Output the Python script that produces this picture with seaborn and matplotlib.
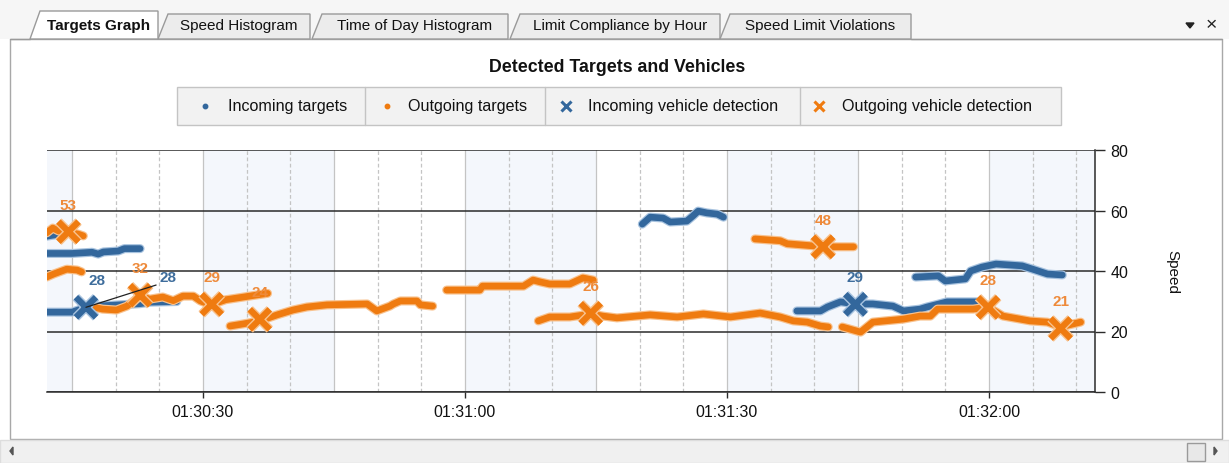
"""
Targets graph: detected radar targets and vehicle detections (speed vs time).
"""
import matplotlib
matplotlib.use("Agg")
import matplotlib.pyplot as plt
import matplotlib.patheffects as pe
from matplotlib.patches import Rectangle, Polygon
from matplotlib.ticker import FixedLocator, FuncFormatter
import pandas as pd
import seaborn as sns

# ============================
# Data (seconds after 01:30:00, speed)
# ============================
START_LABEL = (1, 30)  # hh, mm of the time origin
X_RANGE = (12.14, 132.14)

incoming_t = [12.1, 13.2,
              12.1, 15.0, 17.3, 18.0, 18.6, 20.3, 21.0, 22.8,
              12.1, 15.0, 16.6, 18.5, 22.8, 24.0, 27.0,
              80.3, 81.2, 82.7, 83.5, 85.4, 86.1, 86.7, 87.7, 88.9, 89.6,
              98.0, 100.7, 101.5, 103.0, 104.7, 106.7, 109.0, 110.2, 112.1, 112.9, 115.2, 118.7,
              111.6, 114.2, 115.0, 117.3, 117.9, 119.2, 120.8, 123.8, 124.9, 126.7, 128.4]
incoming_v = [51.5, 52.0,
              45.8, 45.8, 46.2, 45.6, 46.3, 46.6, 47.4, 47.4,
              26.4, 26.4, 28.0, 28.5, 29.2, 29.7, 29.9,
              55.5, 57.8, 57.5, 56.2, 56.5, 58.2, 59.8, 59.2, 58.8, 57.8,
              26.8, 26.8, 28.1, 29.8, 29.1, 29.1, 28.4, 26.8, 27.4, 28.1, 29.8, 29.8,
              38.0, 38.4, 36.7, 37.4, 40.0, 41.3, 42.3, 41.7, 40.7, 39.0, 38.7]
incoming_seg = [1] * 2 + [2] * 8 + [3] * 7 + [4] * 10 + [5] * 12 + [6] * 11

outgoing_t = [12.1, 12.8, 13.5, 14.6, 15.7, 16.3,
              12.1, 12.9, 14.4, 15.6, 16.1,
              17.4, 18.5, 20.1, 21.3, 22.8, 23.9, 25.4, 26.6, 27.7, 28.9, 29.7, 30.9, 32.6, 34.2, 36.0, 37.4,
              33.1, 34.6, 36.5, 38.5, 40.3, 41.9, 44.2, 48.8, 49.9, 51.4, 51.8, 52.6, 54.5, 54.9, 56.3,
              57.9, 61.7, 62.0, 66.7, 67.8, 68.6, 69.7, 72.0, 73.5, 74.7,
              68.4, 69.7, 72.0, 74.4, 75.8, 77.4, 81.2, 84.3, 87.3, 90.4, 93.8, 96.1, 97.6, 99.2, 100.7, 101.6,
              93.2, 96.1, 96.9, 99.9, 101.0, 104.5,
              103.2, 105.3, 106.7, 110.2, 112.1, 113.3, 114.1, 118.2, 119.9, 121.6, 124.7, 126.7, 128.2, 130.5]
outgoing_v = [52.6, 54.2, 53.2, 52.9, 52.2, 51.6,
              38.0, 39.0, 40.6, 40.3, 39.7,
              28.1, 27.4, 27.1, 28.4, 31.7, 30.7, 31.4, 30.2, 31.7, 31.7, 30.1, 28.8, 30.5, 31.2, 32.0, 32.6,
              21.8, 22.5, 23.5, 25.5, 27.1, 28.1, 28.8, 29.1, 26.8, 28.4, 29.1, 30.1, 30.1, 28.8, 28.4,
              33.7, 33.7, 35.0, 35.0, 37.0, 36.4, 35.7, 35.7, 37.7, 37.0,
              23.5, 24.8, 24.8, 25.8, 25.1, 24.5, 25.5, 24.8, 25.8, 24.8, 26.1, 24.8, 23.5, 23.1, 21.8, 21.5,
              50.6, 50.0, 49.0, 48.3, 48.0, 48.0,
              21.5, 19.8, 23.1, 24.1, 25.1, 25.1, 27.4, 27.4, 28.1, 25.1, 23.5, 23.1, 21.5, 23.1]
outgoing_seg = [1] * 6 + [2] * 5 + [3] * 16 + [4] * 15 + [5] * 10 + [6] * 16 + [7] * 6 + [8] * 14

in_det_t = [16.6, 104.7]
in_det_v = [28, 29]
out_det_t = [14.6, 22.8, 31.0, 36.5, 74.4, 101.0, 119.9, 128.2]
out_det_v = [53, 32, 29, 24, 26, 48, 28, 21]

tabs = ["Targets Graph", "Speed Histogram", "Time of Day Histogram",
        "Limit Compliance by Hour", "Speed Limit Violations"]
legend_labels = ["Incoming targets", "Outgoing targets",
                 "Incoming vehicle detection", "Outgoing vehicle detection"]

# ============================
# Style
# ============================
BLUE = "#33679c"
ORANGE = "#ef7b10"
BLUE_LIGHT = "#a8c3df"
ORANGE_LIGHT = "#f8c28e"
BLUE_TXT = "#3e6d9c"
ORANGE_TXT = "#ee8a3a"
W, H = 1229, 464

sns.set_theme(style="white")
plt.rcParams["font.family"] = ["Liberation Sans", "DejaVu Sans"]

fig = plt.figure(figsize=(W / 100, H / 100), dpi=100)
fig.patch.set_facecolor("white")

# ---- window chrome (pixel coordinates) ----
ui = fig.add_axes([0, 0, 1, 1], zorder=0)
ui.set_xlim(0, W)
ui.set_ylim(H, 0)
ui.axis("off")
ui.add_patch(Rectangle((0, 0), W, 40, facecolor="#f6f6f6", lw=0))
ui.add_patch(Rectangle((10, 40), 1212, 400, facecolor="white", edgecolor="#a8a8a8", lw=1))

tab_x = [(30, 158), (158, 310), (312, 508), (510, 720), (720, 911)]
for i, (name, (x0, x1)) in enumerate(zip(tabs, tab_x)):
    top = 12 if i == 0 else 15
    face = "white" if i == 0 else "#ececec"
    ui.add_patch(Polygon([(x0, 40), (x0 + 10, top), (x1, top), (x1, 40)], closed=True,
                         facecolor=face, edgecolor="#9a9a9a", lw=1, zorder=2 if i == 0 else 1))
    ui.text((x0 + 10 + x1) / 2, 26, name, ha="center", va="center", fontsize=11,
            fontweight="bold" if i == 0 else "normal", color="#111111", zorder=3)
ui.plot([10, 30], [40, 40], color="#9a9a9a", lw=1)
ui.plot([911, 1222], [40, 40], color="#9a9a9a", lw=1)
ui.add_patch(Polygon([(1186, 24), (1194, 24), (1190, 29)], closed=True, color="#222222"))
ui.text(1211, 26, "×", ha="center", va="center", fontsize=14, color="#222222")

# legend box
ui.add_patch(Rectangle((177, 88), 884, 38, facecolor="#f2f2f2", edgecolor="#c4c4c4", lw=1))
for xd in [365, 545, 800]:
    ui.plot([xd, xd], [88, 126], color="#c4c4c4", lw=1)
leg_x = [(205, 228), (387, 408), (566, 588), (819, 842)]
leg_style = [("o", BLUE, 3.2, 1), ("o", ORANGE, 3.2, 1), ("x", BLUE, 6.5, 2.2), ("x", ORANGE, 6.5, 2.2)]
for lab, (xm, xt), (mk, col, ms, mew) in zip(legend_labels, leg_x, leg_style):
    ui.plot([xm], [107], marker=mk, ms=ms, mew=mew, color=col, ls="none")
    ui.text(xt, 107, lab, ha="left", va="center", fontsize=11.6, color="#111111")

# scrollbar
ui.add_patch(Rectangle((0, 441), W, 23, facecolor="#f0f0f0", edgecolor="#dddddd", lw=1))
ui.add_patch(Polygon([(10, 452), (13, 448), (13, 456)], closed=True, color="#555555"))
ui.add_patch(Polygon([(1217, 452), (1214, 448), (1214, 456)], closed=True, color="#555555"))
ui.add_patch(Rectangle((1187, 444), 18, 18, facecolor="#e8e8e8", edgecolor="#9a9a9a", lw=1))

fig.text(617 / W, 1 - 67 / H, "Detected Targets and Vehicles", ha="center", va="center",
         fontsize=12.8, fontweight="bold", color="#111111")
fig.text(1172 / W, 1 - 272 / H, "Speed", ha="center", va="center", rotation=270,
         fontsize=11, color="#111111")

# ---- plot area ----
ax = fig.add_axes([47 / W, 71 / H, 1048 / W, 242 / H], zorder=2)
ax.set_facecolor("white")

for s in range(0, 135, 30):
    ax.axvspan(s, s + 15, color="#f4f7fc", lw=0, zorder=0)
for s in range(15, 135, 5):
    solid = s % 15 == 0
    ax.axvline(s, color="#c4c4c4", lw=0.9, ls="-" if solid else (0, (3, 2)), zorder=0.5)

targets = pd.concat([
    pd.DataFrame({"t": incoming_t, "speed": incoming_v, "seg": incoming_seg, "dir": "in"}),
    pd.DataFrame({"t": outgoing_t, "speed": outgoing_v, "seg": outgoing_seg, "dir": "out"}),
])
targets["unit"] = targets["dir"] + targets["seg"].astype(str)
sns.lineplot(data=targets, x="t", y="speed", hue="dir", units="unit", estimator=None,
             sort=False, palette={"in": BLUE, "out": ORANGE}, linewidth=4.8,
             legend=False, ax=ax)
for ln in ax.get_lines():
    if ln.get_linewidth() > 4:
        light = BLUE_LIGHT if ln.get_color() == BLUE else ORANGE_LIGHT
        ln.set_solid_capstyle("round")
        ln.set_solid_joinstyle("round")
        ln.set_zorder(3 if ln.get_color() == ORANGE else 2.5)
        ln.set_path_effects([pe.Stroke(linewidth=6.5, foreground=light), pe.Normal()])

for dt, dv, col, light in [(in_det_t, in_det_v, BLUE, BLUE_LIGHT),
                           (out_det_t, out_det_v, ORANGE, ORANGE_LIGHT)]:
    sns.scatterplot(x=dt, y=dv, marker="x", s=210, linewidth=4.5, color=col, ax=ax,
                    zorder=4, legend=False)
    ax.collections[-1].set_path_effects([pe.Stroke(linewidth=6.5, foreground=light), pe.Normal()])

for k, (dt, dv, col) in enumerate([(in_det_t, in_det_v, BLUE_TXT), (out_det_t, out_det_v, ORANGE_TXT)]):
    for j, (t, v) in enumerate(zip(dt, dv)):
        dx = 8 if (k == 0 and j == 0) else 0
        ax.annotate(f"{v:.0f}", (t, v), xytext=(dx, 19.5), textcoords="offset points",
                    ha="center", va="center", fontsize=11, fontweight="bold", color=col, zorder=5)
# second (smart) label for the first incoming detection
ax.annotate(f"{in_det_v[0]:.0f}", (in_det_t[0], in_det_v[0]), xytext=(59, 22),
            textcoords="offset points", ha="center", va="center", fontsize=11,
            fontweight="bold", color=BLUE_TXT, zorder=5,
            arrowprops=dict(arrowstyle="-", color="#222222", lw=0.9, shrinkA=0, shrinkB=0,
                            relpos=(1, 0), connectionstyle="angle,angleA=0,angleB=17.6,rad=0"))

ax.set_xlim(*X_RANGE)
ax.set_ylim(0, 80)
ax.set_xlabel("")
ax.set_ylabel("")
ax.yaxis.tick_right()
ax.set_yticks([0, 20, 40, 60, 80])
ax.yaxis.grid(True, color="#2b2b2b", lw=1.1)
ax.xaxis.grid(False)
ax.xaxis.set_major_locator(FixedLocator([30, 60, 90, 120]))
ax.xaxis.set_major_formatter(FuncFormatter(
    lambda s, _: f"{START_LABEL[0]:02d}:{START_LABEL[1] + int(s) // 60:02d}:{int(s) % 60:02d}"))
ax.tick_params(axis="y", right=True, length=7, width=1, color="#2b2b2b", pad=4,
               labelsize=11.5, labelcolor="#111111", direction="out")
ax.tick_params(axis="x", bottom=True, length=4, width=1, color="#2b2b2b", pad=5,
               labelsize=11.5, labelcolor="#111111", direction="out")
for side in ["left", "top"]:
    ax.spines[side].set_visible(False)
for side in ["right", "bottom"]:
    ax.spines[side].set_color("#2b2b2b")
    ax.spines[side].set_linewidth(1.1)

fig.savefig("out.png", dpi=100)
